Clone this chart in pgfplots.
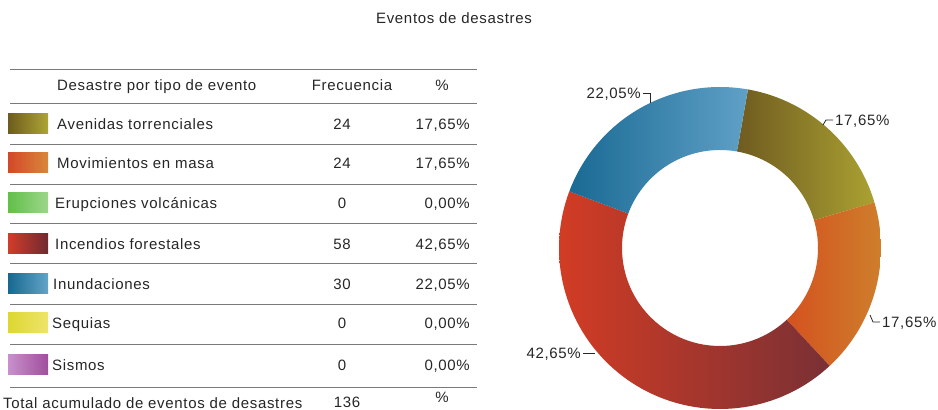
\documentclass[border=0pt]{standalone}
\usepackage{pgfplots}
\pgfplotsset{compat=1.18}
\usepackage{pgfplotstable}
\usepackage{fontspec}
\setmainfont{Liberation Sans}[LetterSpace=4.5]

\definecolor{txt}{HTML}{262626}
\definecolor{rule}{HTML}{7A7A7A}
% swatches
\definecolor{sAvL}{HTML}{6D5C1F}\definecolor{sAvR}{HTML}{ADA534}
\definecolor{sMoL}{HTML}{D4482A}\definecolor{sMoR}{HTML}{D8873A}
\definecolor{sErL}{HTML}{62BF4A}\definecolor{sErR}{HTML}{9DD68A}
\definecolor{sInL}{HTML}{D23C2A}\definecolor{sInR}{HTML}{6E2A30}
\definecolor{sUnL}{HTML}{17688F}\definecolor{sUnR}{HTML}{64A4C8}
\definecolor{sSeL}{HTML}{DCD830}\definecolor{sSeR}{HTML}{EEE46A}
\definecolor{sSiL}{HTML}{C890CC}\definecolor{sSiR}{HTML}{A04E9C}
% slices
\definecolor{pAvL}{HTML}{6F5B20}\definecolor{pAvR}{HTML}{AAA132}
\definecolor{pMoL}{HTML}{D4521F}\definecolor{pMoR}{HTML}{CE7E2C}
\definecolor{pInL}{HTML}{D23C24}\definecolor{pInR}{HTML}{7A3035}
\definecolor{pUnL}{HTML}{196A94}\definecolor{pUnR}{HTML}{60A0C6}

\pgfplotstableread{
evento value
Avenidas 24
Movimientos 24
Incendios 58
Inundaciones 30
}\piedata

\newcommand{\slice}[4]{%
  \addplot[draw=none, left color=#3, right color=#4, domain=#2:#1, samples=72]
    ({161*cos(x)},{161*sin(x)})
    -- ({98*cos(#1)},{98*sin(#1)})
    arc[start angle=#1, end angle=#2, radius=98pt] -- cycle;}

\begin{document}
\begin{tikzpicture}[every node/.style={inner sep=0pt, text height=10.7pt, text depth=0pt, text=txt, font=\fontsize{15}{18}\selectfont}]
\useasboundingbox (0,0) rectangle (938pt,410pt);

\pgfplotstablegetelem{0}{value}\of\piedata \edef\vA{\pgfplotsretval}
\pgfplotstablegetelem{1}{value}\of\piedata \edef\vB{\pgfplotsretval}
\pgfplotstablegetelem{2}{value}\of\piedata \edef\vC{\pgfplotsretval}
\pgfplotstablegetelem{3}{value}\of\piedata \edef\vD{\pgfplotsretval}
\pgfmathsetmacro\tot{\vA+\vB+\vC+\vD}
\pgfmathsetmacro\aA{80}
\pgfmathsetmacro\aB{\aA-360/\tot*\vA}
\pgfmathsetmacro\aC{\aB-360/\tot*\vB}
\pgfmathsetmacro\aD{\aC-360/\tot*\vC}
\pgfmathsetmacro\aE{\aD-360/\tot*\vD}

% title
\node at (454pt,392pt) {Eventos de desastres};

% table rules
\foreach \yy in {340,306,265,225,186,146,105,65,22}
  \draw[rule, line width=1pt] (10pt,\yy pt) -- (477pt,\yy pt);

% header
\node[anchor=west] at (57pt,325pt) {Desastre por tipo de evento};
\node at (352pt,325pt) {Frecuencia};
\node at (442pt,325pt) {\%};

% rows: swatch, label, frequency, percent
\newcommand{\row}[7]{%
  \shade[left color=#1, right color=#2] (8pt,#3pt-10pt) rectangle (48pt,#3pt+10pt);
  \node[anchor=west] at (#4pt,#3pt) {#5};
  \node at (342pt,#3pt) {#6};
  \node[anchor=east] at (470pt,#3pt) {#7};}
\row{sAvL}{sAvR}{286}{57}{Avenidas torrenciales}{24}{17,65\%}
\row{sMoL}{sMoR}{247}{57}{Movimientos en masa}{24}{17,65\%}
\row{sErL}{sErR}{207}{55}{Erupciones volcánicas}{0}{0,00\%}
\row{sInL}{sInR}{166}{55}{Incendios forestales}{58}{42,65\%}
\row{sUnL}{sUnR}{126}{53}{Inundaciones}{30}{22,05\%}
\row{sSeL}{sSeR}{87}{52}{Sequias}{0}{0,00\%}
\row{sSiL}{sSiR}{45}{52}{Sismos}{0}{0,00\%}

\node[anchor=west] at (3pt,7pt) {Total acumulado de eventos de desastres};
\node at (347pt,8pt) {136};
\node at (442pt,13pt) {\%};

% donut
\begin{axis}[at={(720pt,162pt)}, anchor=origin, x=1pt, y=1pt,
  xmin=-170, xmax=170, ymin=-170, ymax=170, hide axis, clip=false]
\slice{\aA}{\aB}{pAvL}{pAvR}
\slice{\aB}{\aC}{pMoL}{pMoR}
\slice{\aC}{\aD}{pInL}{pInR}
\slice{\aD}{\aE}{pUnL}{pUnR}
% labels
\draw[txt, line width=0.8pt] (-77,155) -- (-70,155) -- (-70,145);
\node[anchor=east] at (-79,155) {22,05\%};
\draw[txt, line width=0.8pt] (103,123) -- (106,128) -- (113,128);
\node[anchor=west] at (115,128) {17,65\%};
\draw[txt, line width=0.8pt] (150,-67) -- (153,-74) -- (160,-74);
\node[anchor=west] at (162,-74) {17,65\%};
\draw[txt, line width=0.8pt] (-125,-105) -- (-137,-105);
\node[anchor=east] at (-139,-105) {42,65\%};
\end{axis}
\end{tikzpicture}
\end{document}
